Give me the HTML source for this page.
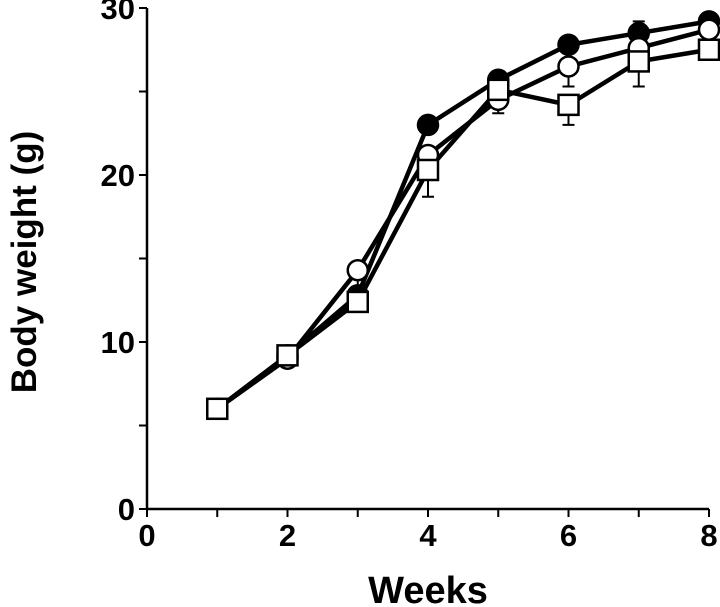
<!DOCTYPE html>
<html><head><meta charset="utf-8"><style>
html,body{margin:0;padding:0;background:#fff;}
svg{display:block;font-family:"Liberation Sans",Arial,sans-serif;font-weight:bold;}
</style></head><body>
<svg id="chart" width="720" height="607" viewBox="0 0 720 607">
<text x="36" y="262" font-size="35" text-anchor="middle" transform="rotate(-90 36 262)">Body weight (g)</text>
<text x="428" y="603" font-size="38" text-anchor="middle">Weeks</text>
</svg>
<script>
const weeks=[1,2,3,4,5,6,7,8];
const filledVals=[6,9.2,12.8,23,25.7,27.8,28.5,29.2];
const openVals=[6,9.0,14.3,21.2,24.5,26.5,27.6,28.7];
const squareVals=[6,9.2,12.4,20.3,25.1,24.2,26.8,27.5];
const filledErr=[0,0,0.4,0.4,0.5,0.5,0.7,0.5];
const openErr=[0,0,1.2,1.2,0.8,1.2,1.0,0.5];
const squareErr=[0,0,0.4,1.6,0.8,1.2,1.5,0.6];
const xTicks=[0,2,4,6,8];
const yTicks=[0,10,20,30];
const NS="http://www.w3.org/2000/svg";
const svg=document.getElementById('chart');
const X0=147,X1=709,Y0=509,Y1=8;
const xs=v=>X0+(v-0)/8*(X1-X0);
const ys=v=>Y0-(v/30)*(Y0-Y1);
function mk(t,a){const e=document.createElementNS(NS,t);for(const k in a)e.setAttribute(k,a[k]);svg.appendChild(e);return e;}
let ax=mk('path',{d:`M${X0} ${Y1}V${Y0}H${X1}`,stroke:'#000','stroke-width':2.5,fill:'none'});


for(let v=0;v<=8;v++){const t=mk('line',{x1:xs(v),x2:xs(v),y1:Y0,y2:Y0+8,stroke:'#000','stroke-width':2});

}
for(let v=0;v<=30;v+=5){const t=mk('line',{x1:X0-8,x2:X0,y1:ys(v),y2:ys(v),stroke:'#000','stroke-width':2});

}
xTicks.forEach(v=>{const t=mk('text',{x:xs(v),y:Y0+37,'font-size':31,'text-anchor':'middle'});t.textContent=v;

});
yTicks.forEach(v=>{const t=mk('text',{x:X0-12,y:ys(v)+11,'font-size':31,'text-anchor':'end'});t.textContent=v;

});
function series(vals,err,name,dir){
  const g=mk('g',{});
  
  
  weeks.forEach((w,i)=>{if(!err[i])return;const y=ys(vals[i]),y2=ys(vals[i]+dir*err[i]);
    const e=document.createElementNS(NS,'path');e.setAttribute('d',`M${xs(w)} ${y}V${y2}M${xs(w)-6} ${y2}H${xs(w)+6}`);e.setAttribute('stroke','#000');e.setAttribute('stroke-width',2);g.appendChild(e);
    
    });
  const l=document.createElementNS(NS,'polyline');
  l.setAttribute('points',weeks.map((w,i)=>xs(w)+','+ys(vals[i])).join(' '));
  l.setAttribute('fill','none');l.setAttribute('stroke','#000');l.setAttribute('stroke-width',4.5);
  
  
  g.appendChild(l);
}
function markers(vals,name,shape){
  weeks.forEach((w,i)=>{let m;
    if(shape==='square')m=mk('rect',{x:xs(w)-10,y:ys(vals[i])-10,width:20,height:20,fill:'#fff',stroke:'#000','stroke-width':2.5});
    else m=mk('circle',{cx:xs(w),cy:ys(vals[i]),r:10,fill:shape==='filled'?'#000':'#fff',stroke:'#000','stroke-width':2.5});
    
    });
}
series(filledVals,filledErr,'filled-circle-series',1);
series(openVals,openErr,'open-circle-series',-1);
series(squareVals,squareErr,'square-series',-1);
markers(filledVals,'filled-circle','filled');
markers(openVals,'open-circle','open');
markers(squareVals,'square','square');
</script>
</body></html>
